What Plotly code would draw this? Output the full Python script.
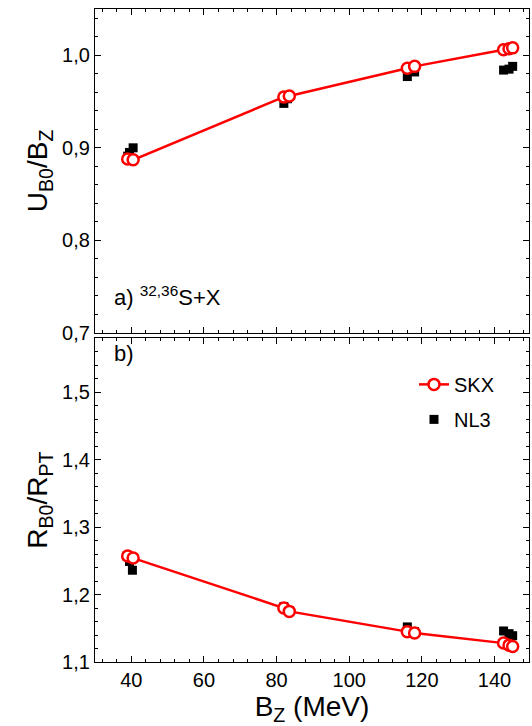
import plotly.graph_objects as go
from plotly.subplots import make_subplots

# Panel a) U_B0/B_Z
skx_a_x = [39.0, 40.5, 82.0, 83.5, 116.0, 118.0, 142.5, 144.0, 145.0]
skx_a_y = [0.888, 0.887, 0.955, 0.956, 0.986, 0.988, 1.006, 1.007, 1.008]
nl3_a_x = [39.0, 39.5, 40.5, 82.0, 83.0, 116.0, 118.0, 142.5, 144.0, 145.0]
nl3_a_y = [0.891, 0.895, 0.900, 0.948, 0.953, 0.977, 0.982, 0.984, 0.985, 0.988]

# Panel b) R_B0/R_PT
skx_b_x = [39.0, 40.5, 82.0, 83.5, 116.0, 118.0, 142.5, 144.0, 145.0]
skx_b_y = [1.257, 1.254, 1.180, 1.175, 1.145, 1.143, 1.128, 1.125, 1.123]
nl3_b_x = [38.8, 39.5, 40.3, 82.0, 83.5, 116.0, 118.0, 142.5, 144.0, 145.0]
nl3_b_y = [1.257, 1.249, 1.236, 1.182, 1.176, 1.152, 1.145, 1.146, 1.142, 1.139]

RED = "#ff0000"
FONT = "Arial, Liberation Sans, sans-serif"

fig = make_subplots(rows=2, cols=1, shared_xaxes=True, vertical_spacing=0.008)

def add_panel(row, sx, sy, nx, ny, show):
    fig.add_trace(go.Scatter(x=nx, y=ny, mode="markers", name="NL3",
                             marker=dict(symbol="square", size=9, color="black"),
                             legendgroup="nl3", showlegend=show, legendrank=2), row=row, col=1)
    fig.add_trace(go.Scatter(x=sx, y=sy, mode="lines+markers", name="SKX",
                             line=dict(color=RED, width=2.5),
                             marker=dict(symbol="circle", size=11, color="white",
                                         line=dict(color=RED, width=2.5)),
                             legendgroup="skx", showlegend=show, legendrank=1), row=row, col=1)

add_panel(1, skx_a_x, skx_a_y, nl3_a_x, nl3_a_y, False)
add_panel(2, skx_b_x, skx_b_y, nl3_b_x, nl3_b_y, True)

axis_common = dict(showline=True, linecolor="black", linewidth=1.2, mirror="allticks",
                   ticks="inside", ticklen=6, tickwidth=1.2, tickcolor="black",
                   showgrid=False, zeroline=False,
                   tickfont=dict(family=FONT, size=20, color="black"))

fig.update_xaxes(**axis_common, range=[30, 149.5], dtick=20, tick0=0,
                 minor=dict(ticks="inside", ticklen=3, dtick=4, tickcolor="black", tickwidth=1))
fig.update_xaxes(showticklabels=False, row=1, col=1)
fig.update_xaxes(title=dict(text="B<sub>Z</sub> (MeV)", font=dict(family=FONT, size=28, color="black"),
                            standoff=6), row=2, col=1)

fig.update_yaxes(**axis_common, tickformat=".1f",
                 minor=dict(ticks="inside", ticklen=3, dtick=0.02, tickcolor="black", tickwidth=1))
fig.update_yaxes(range=[0.7, 1.05], dtick=0.1, tick0=0.7,
                 title=dict(text="U<sub>B0</sub>/B<sub>Z</sub>", font=dict(family=FONT, size=28, color="black"),
                            standoff=6), row=1, col=1)
fig.update_yaxes(range=[1.1, 1.58], dtick=0.1, tick0=1.1,
                 title=dict(text="R<sub>B0</sub>/R<sub>PT</sub>", font=dict(family=FONT, size=28, color="black"),
                            standoff=6), row=2, col=1)

fig.add_annotation(text="a) <sup>32,36</sup>S+X", xref="paper", yref="paper",
                   x=0.04, y=0.56, xanchor="left", yanchor="middle", showarrow=False,
                   font=dict(family=FONT, size=22, color="black"))
fig.add_annotation(text="b)", xref="paper", yref="paper",
                   x=0.04, y=0.473, xanchor="left", yanchor="middle", showarrow=False,
                   font=dict(family=FONT, size=22, color="black"))

fig.update_layout(
    width=532, height=726,
    margin=dict(l=95, r=3, t=9, b=64),
    paper_bgcolor="white", plot_bgcolor="white",
    separators=",.",
    showlegend=True,
    legend=dict(x=0.735, y=0.455, xanchor="left", yanchor="top",
                bgcolor="rgba(0,0,0,0)", font=dict(family=FONT, size=20, color="black"),
                itemwidth=30, tracegroupgap=6),
)

fig.write_html("out.html")
